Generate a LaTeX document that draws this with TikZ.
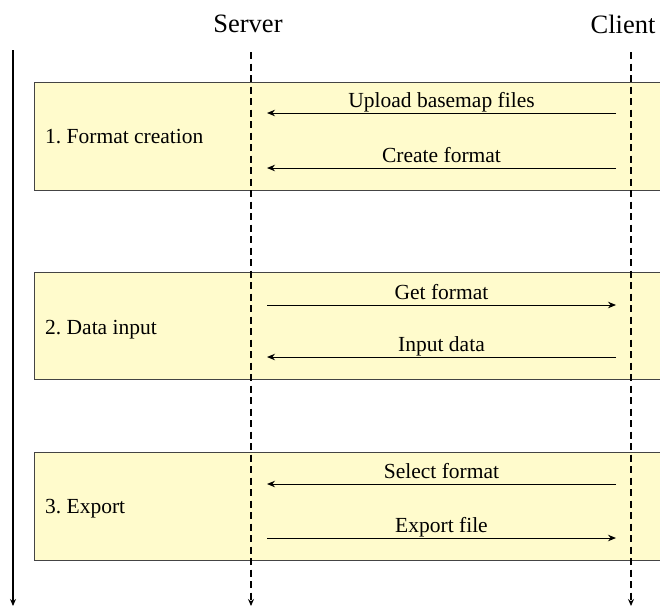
\documentclass[tikz,border=0pt]{standalone}
\usepackage{fontspec}
\setmainfont{Liberation Serif}
\usetikzlibrary{arrows.meta}
\frenchspacing
\definecolor{phasefill}{HTML}{FFFBCC}
\definecolor{phaseline}{HTML}{444444}
\tikzset{
  phase/.style={draw=phaseline, line width=1pt, fill=phasefill},
  lifeline/.style={line width=1.6pt, dash pattern=on 7pt off 4.5pt, -{Stealth[length=7pt,width=6pt]}},
  timeline/.style={line width=1.5pt, -{Stealth[length=7pt,width=6pt]}},
  msg/.style={line width=1pt, -{Stealth[length=8pt,width=6.5pt]}},
  msglabel/.style={font=\rmfamily\fontsize{21.5}{24}\selectfont, anchor=base, yshift=6pt, inner sep=0pt},
  phaselabel/.style={font=\rmfamily\fontsize{21.5}{24}\selectfont, anchor=base west, inner sep=0pt},
  header/.style={font=\rmfamily\fontsize{26.5}{30}\selectfont, inner sep=0pt}
}
\begin{document}
\begin{tikzpicture}[x=1pt,y=-1pt]
\useasboundingbox (0,0) rectangle (660,606);
\clip (0,0) rectangle (660,606);

% phase bands
\draw[phase] (34,82) rectangle (670,190);
\draw[phase] (34,272) rectangle (670,379);
\draw[phase] (34,452) rectangle (670,560);

\node[phaselabel] (p1) at (45,143) {1.\ Format creation};
\node[phaselabel] (p2) at (45,334) {2.\ Data input};
\node[phaselabel] (p3) at (45,513) {3.\ Export};

% participants and lifelines
\node[header] (server) at (248,24) {Server};
\node[header] (client) at (623,24) {Client};
\coordinate (sTop) at (251,52);
\coordinate (sBot) at (251,606);
\coordinate (cTop) at (631,52);
\coordinate (cBot) at (631,606);
\draw[lifeline] (sTop) -- (sBot);
\draw[lifeline] (cTop) -- (cBot);

% time axis
\coordinate (tTop) at (13,50);
\coordinate (tBot) at (13,606);
\draw[timeline] (tTop) -- (tBot);

% message end points
\foreach \n/\y in {a/113, b/168, c/305, d/357, e/484, f/538} {
  \coordinate (s\n) at (267,\y);
  \coordinate (c\n) at (616,\y);
}

\draw[msg] (ca) -- node[msglabel] {Upload basemap files} (sa);
\draw[msg] (cb) -- node[msglabel] {Create format} (sb);
\draw[msg] (sc) -- node[msglabel] {Get format} (cc);
\draw[msg] (cd) -- node[msglabel] {Input data} (sd);
\draw[msg] (ce) -- node[msglabel] {Select format} (se);
\draw[msg] (sf) -- node[msglabel] {Export file} (cf);
\end{tikzpicture}
\end{document}
